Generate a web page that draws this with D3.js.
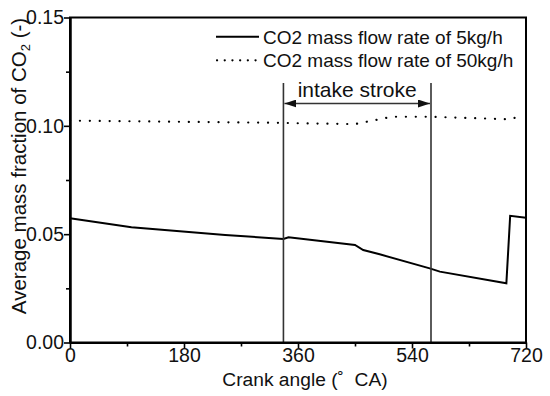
<!DOCTYPE html>
<html><head><meta charset="utf-8">
<script src="https://cdn.jsdelivr.net/npm/d3@7"></script>
<style>body{margin:0;background:#fff}svg{display:block}text{font-family:"Liberation Sans",Arial,sans-serif}</style>
</head><body>
<svg id="c" width="550" height="396"></svg>
<script>
// Data
const series5Angle = [0, 97, 245, 337, 345, 450, 463, 489, 568, 584, 689, 695, 720];
const series5Value = [0.0573, 0.0532, 0.0496, 0.0478, 0.0486, 0.0450, 0.0427, 0.0407, 0.0342, 0.0327, 0.0273, 0.0585, 0.0576];
const series50Angle = [0, 330, 358, 450, 508, 568, 695, 713];
const series50Value = [0.1024, 0.1014, 0.1012, 0.1008, 0.1042, 0.1042, 0.1030, 0.1047];
const xTicks = [0, 180, 360, 540, 720];
const xMinor = [90, 270, 450, 630];
const yTicks = [0.00, 0.05, 0.10, 0.15];
const yMinor = [0.025, 0.075, 0.125];
const intake = [337, 570];
const legendLabels = ["CO2 mass flow rate of 5kg/h", "CO2 mass flow rate of 50kg/h"];

const svg = d3.select("#c");
const L = 70, R = 526, T = 17.5, B = 342.5;
const x = d3.scaleLinear().domain([0, 720]).range([L, R]);
const y = d3.scaleLinear().domain([0, 0.15]).range([B, T]);

// defs arrow
const defs = svg.append("defs");
defs.append("marker").attr("id","arr").attr("viewBox","0 0 12 8").attr("refX",12).attr("refY",4)
  .attr("markerWidth",12).attr("markerHeight",8).attr("markerUnits","userSpaceOnUse").attr("orient","auto-start-reverse")
  .append("path").attr("d","M0,0L12,4L0,8Z").attr("fill","#111");

// data lines
const line = d3.line().x(d=>x(d[0])).y(d=>y(d[1]));
svg.append("path").datum(series5Angle.map((a,i)=>[a,series5Value[i]]))
  .attr("d",line).attr("fill","none").attr("stroke","#000").attr("stroke-width",2);
svg.append("path").datum(series50Angle.map((a,i)=>[a,series50Value[i]]))
  .attr("d",line).attr("fill","none").attr("stroke","#000").attr("stroke-width",2.2)
  .attr("stroke-dasharray","0.1,9.8").attr("stroke-linecap","round");

// intake stroke lines
intake.forEach(a=>{
  svg.append("line").attr("x1",x(a)).attr("x2",x(a)).attr("y1",83).attr("y2",B)
    .attr("stroke","#333").attr("stroke-width",1.6);
});
svg.append("line").attr("x1",x(intake[0])+1).attr("x2",x(intake[1])-1).attr("y1",103.5).attr("y2",103.5)
  .attr("stroke","#333").attr("stroke-width",1.4)
  .attr("marker-start","url(#arr)").attr("marker-end","url(#arr)");
svg.append("text").attr("x",(x(intake[0])+x(intake[1]))/2).attr("y",97).attr("text-anchor","middle")
  .attr("font-size",21).attr("fill","#111").text("intake stroke");

// frame
svg.append("rect").attr("x",L).attr("y",T).attr("width",R-L).attr("height",B-T)
  .attr("fill","none").attr("stroke","#000").attr("stroke-width",2);

// axes
const xAxis = svg.append("g").attr("transform",`translate(0,${B})`)
  .call(d3.axisBottom(x).tickValues(xTicks).tickSize(6).tickSizeOuter(0).tickFormat(d3.format("d")));
const xMin = svg.append("g").attr("transform",`translate(0,${B})`)
  .call(d3.axisBottom(x).tickValues(xMinor).tickSize(4).tickSizeOuter(0).tickFormat(""));
const yAxis = svg.append("g").attr("transform",`translate(${L},0)`)
  .call(d3.axisLeft(y).tickValues(yTicks).tickSize(6).tickSizeOuter(0).tickFormat(d3.format(".2f")));
const yMin = svg.append("g").attr("transform",`translate(${L},0)`)
  .call(d3.axisLeft(y).tickValues(yMinor).tickSize(4).tickSizeOuter(0).tickFormat(""));
[xAxis,xMin,yAxis,yMin].forEach(g=>{
  g.select(".domain").attr("stroke","#000").attr("stroke-width",2);
  g.selectAll(".tick line").attr("stroke","#000").attr("stroke-width",1.6);
  g.selectAll(".tick text").attr("font-size",19.5).attr("fill","#111").attr("font-family","Liberation Sans, Arial, sans-serif");
});
xAxis.selectAll(".tick text").attr("dy","0.85em").attr("y",3);
yAxis.selectAll(".tick text").attr("x",-6);

// axis titles
svg.append("text").attr("x",(L+R)/2 + 7).attr("y",386).attr("text-anchor","middle").attr("font-size",19.2)
  .attr("fill","#111").style("white-space","pre").text("Crank angle (\u02DA  CA)");
const yl = svg.append("text").attr("transform",`translate(26,166) rotate(-90)`)
  .attr("text-anchor","middle").attr("font-size",20.5).attr("fill","#111");
yl.append("tspan").text("Average mass fraction of CO");
yl.append("tspan").attr("font-size",13).attr("dy",4).text("2");
yl.append("tspan").attr("dy",-4).text(" (-)");

// legend
const lg = [[36.7, null],[60.3, "0.1,7.6"]];
lg.forEach((l,i)=>{
  const ln = svg.append("line").attr("x1",216).attr("x2",259).attr("y1",l[0]).attr("y2",l[0])
    .attr("stroke","#000").attr("stroke-width",i?2.2:2);
  if(l[1]) ln.attr("stroke-dasharray",l[1]).attr("stroke-linecap","round").attr("x1",217);
  svg.append("text").attr("x",263).attr("y",l[0]+6.8).attr("font-size",19).attr("fill","#111").text(legendLabels[i]);
});
</script>
</body></html>
